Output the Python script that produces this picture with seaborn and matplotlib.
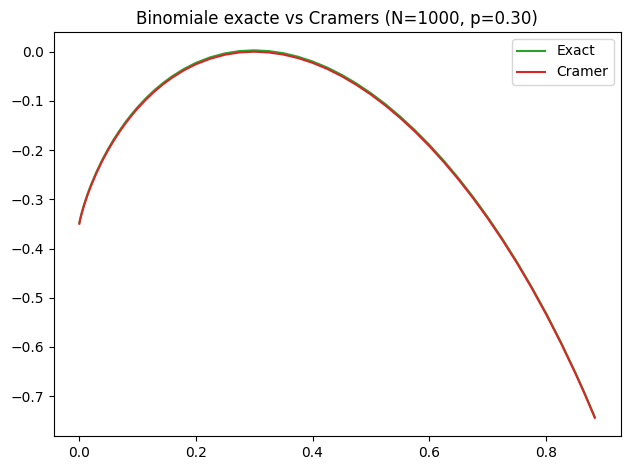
import numpy as np
import pandas as pd
import matplotlib
matplotlib.use("Agg")
import matplotlib.pyplot as plt
import seaborn as sns

# values (x = k/N, y = log-probability / N)
x_vals = [0.001, 0.002, 0.003, 0.005, 0.0075, 0.01, 0.015, 0.02, 0.03, 0.04,
          0.05, 0.06, 0.07, 0.08, 0.09, 0.10, 0.115, 0.13, 0.145, 0.16,
          0.18, 0.20, 0.225, 0.25, 0.275, 0.30, 0.325, 0.35, 0.375, 0.40,
          0.425, 0.45, 0.475, 0.50, 0.525, 0.55, 0.575, 0.60, 0.625, 0.65,
          0.675, 0.70, 0.725, 0.75, 0.775, 0.80, 0.825, 0.85, 0.865, 0.883]
cramer_vals = [-0.3496, -0.3439, -0.3388, -0.3294, -0.3189, -0.3092, -0.2915,
               -0.2756, -0.2474, -0.2226, -0.2005, -0.1805, -0.1624, -0.1457,
               -0.1304, -0.1163, -0.0973, -0.0804, -0.0656, -0.0526, -0.0378,
               -0.0257, -0.0142, -0.0062, -0.0015, 0.0, -0.0015, -0.0058,
               -0.0129, -0.0226, -0.0349, -0.0498, -0.0673, -0.0872, -0.1096,
               -0.1346, -0.1620, -0.1920, -0.2247, -0.2600, -0.2980, -0.3389,
               -0.3828, -0.4298, -0.4802, -0.5341, -0.5920, -0.6542, -0.6938,
               -0.7439]
exact_vals = [-0.3478, -0.3421, -0.3370, -0.3275, -0.3169, -0.3071, -0.2893,
              -0.2733, -0.2450, -0.2201, -0.1980, -0.1779, -0.1598, -0.1430,
              -0.1277, -0.1136, -0.0945, -0.0776, -0.0628, -0.0498, -0.0350,
              -0.0229, -0.0114, -0.0034, 0.0013, 0.0028, 0.0013, -0.0030,
              -0.0101, -0.0198, -0.0321, -0.0470, -0.0645, -0.0844, -0.1068,
              -0.1318, -0.1593, -0.1893, -0.2220, -0.2574, -0.2955, -0.3365,
              -0.3805, -0.4276, -0.4781, -0.5321, -0.5901, -0.6524, -0.6920,
              -0.7421]

N = 1000
p = 0.30

df = pd.DataFrame({"x": x_vals, "exact": exact_vals, "cramer": cramer_vals})

fig, ax = plt.subplots(figsize=(6.3, 4.7), dpi=100)
sns.lineplot(data=df, x="x", y="exact", color="tab:green", label="Exact", ax=ax)
sns.lineplot(data=df, x="x", y="cramer", color="tab:red", label="Cramer", ax=ax)

ax.set_xlabel("")
ax.set_ylabel("")
ax.set_title(f"Binomiale exacte vs Cramers (N={N}, p={p:.2f})")
ax.legend(loc="upper right")

fig.subplots_adjust(left=0.085, right=0.985, top=0.932, bottom=0.072)
plt.savefig("out.png")
